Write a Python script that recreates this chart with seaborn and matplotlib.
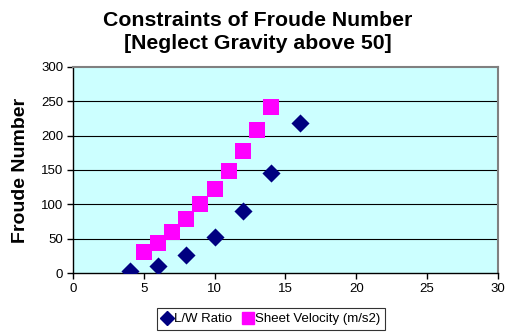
import matplotlib
matplotlib.use("Agg")
import matplotlib.pyplot as plt
from matplotlib.lines import Line2D
import seaborn as sns
import pandas as pd

lw_x = [4, 6, 8, 10, 12, 14, 16]
lw_y = [3, 11, 27, 52, 91, 146, 219]
sv_x = [5, 6, 7, 8, 9, 10, 11, 12, 13, 14]
sv_y = [31, 44, 60, 78, 100, 122, 148, 177, 208, 241]
x_ticks = [0, 5, 10, 15, 20, 25, 30]
y_ticks = [0, 50, 100, 150, 200, 250, 300]

sns.set_style("white")
plt.rcParams['font.family'] = ['Liberation Sans', 'DejaVu Sans']
for k in ['text.color', 'axes.labelcolor', 'xtick.color', 'ytick.color']:
    plt.rcParams[k] = 'black'

fig = plt.figure(figsize=(5.09, 3.33), dpi=100)
ax = fig.add_axes([0.1434, 0.18, 0.8346, 0.619])
ax.set_facecolor('#CCFFFF')

df_lw = pd.DataFrame({'x': lw_x, 'y': lw_y})
df_sv = pd.DataFrame({'x': sv_x, 'y': sv_y})
sns.scatterplot(data=df_lw, x='x', y='y', ax=ax, marker='D', s=85, color='#000080',
                edgecolor='#000080', linewidth=0, zorder=3, legend=False)
sns.scatterplot(data=df_sv, x='x', y='y', ax=ax, marker='s', s=120, color='#FF00FF',
                edgecolor='#FF00FF', linewidth=0, zorder=3, legend=False)

ax.set_xlim(0, 30)
ax.set_ylim(0, 300)
ax.set_xticks(x_ticks)
ax.set_yticks(y_ticks)
ax.tick_params(axis='both', labelsize=9.5, direction='out', length=4, width=1, colors='black',
               bottom=True, left=True, pad=3)
for y in y_ticks[1:-1]:
    ax.axhline(y, color='black', linewidth=0.8, zorder=1)
for side in ['top', 'right']:
    ax.spines[side].set_color('#808080')
    ax.spines[side].set_linewidth(1.5)
for side in ['left', 'bottom']:
    ax.spines[side].set_color('black')
    ax.spines[side].set_linewidth(1)
ax.set_xlabel('')
ax.set_ylabel('Froude Number', fontsize=14, fontweight='bold', labelpad=9)

fig.text(0.507, 0.968, 'Constraints of Froude Number\n[Neglect Gravity above 50]',
         ha='center', va='top', fontsize=15.3, fontweight='bold', linespacing=1.3)

handles = [Line2D([], [], linestyle='none', marker='D', markersize=7, color='#000080'),
           Line2D([], [], linestyle='none', marker='s', markersize=8, color='#FF00FF')]
leg = fig.legend(handles, ['L/W Ratio', 'Sheet Velocity (m/s2)'], loc='center',
                 bbox_to_anchor=(0.532, 0.042), ncol=2, fontsize=9.5,
                 frameon=True, fancybox=False, edgecolor='black', handletextpad=0.05,
                 columnspacing=0.8, borderpad=0.35, handlelength=0.9, borderaxespad=0)
leg.get_frame().set_linewidth(0.8)

fig.savefig('out.png', dpi=100)
